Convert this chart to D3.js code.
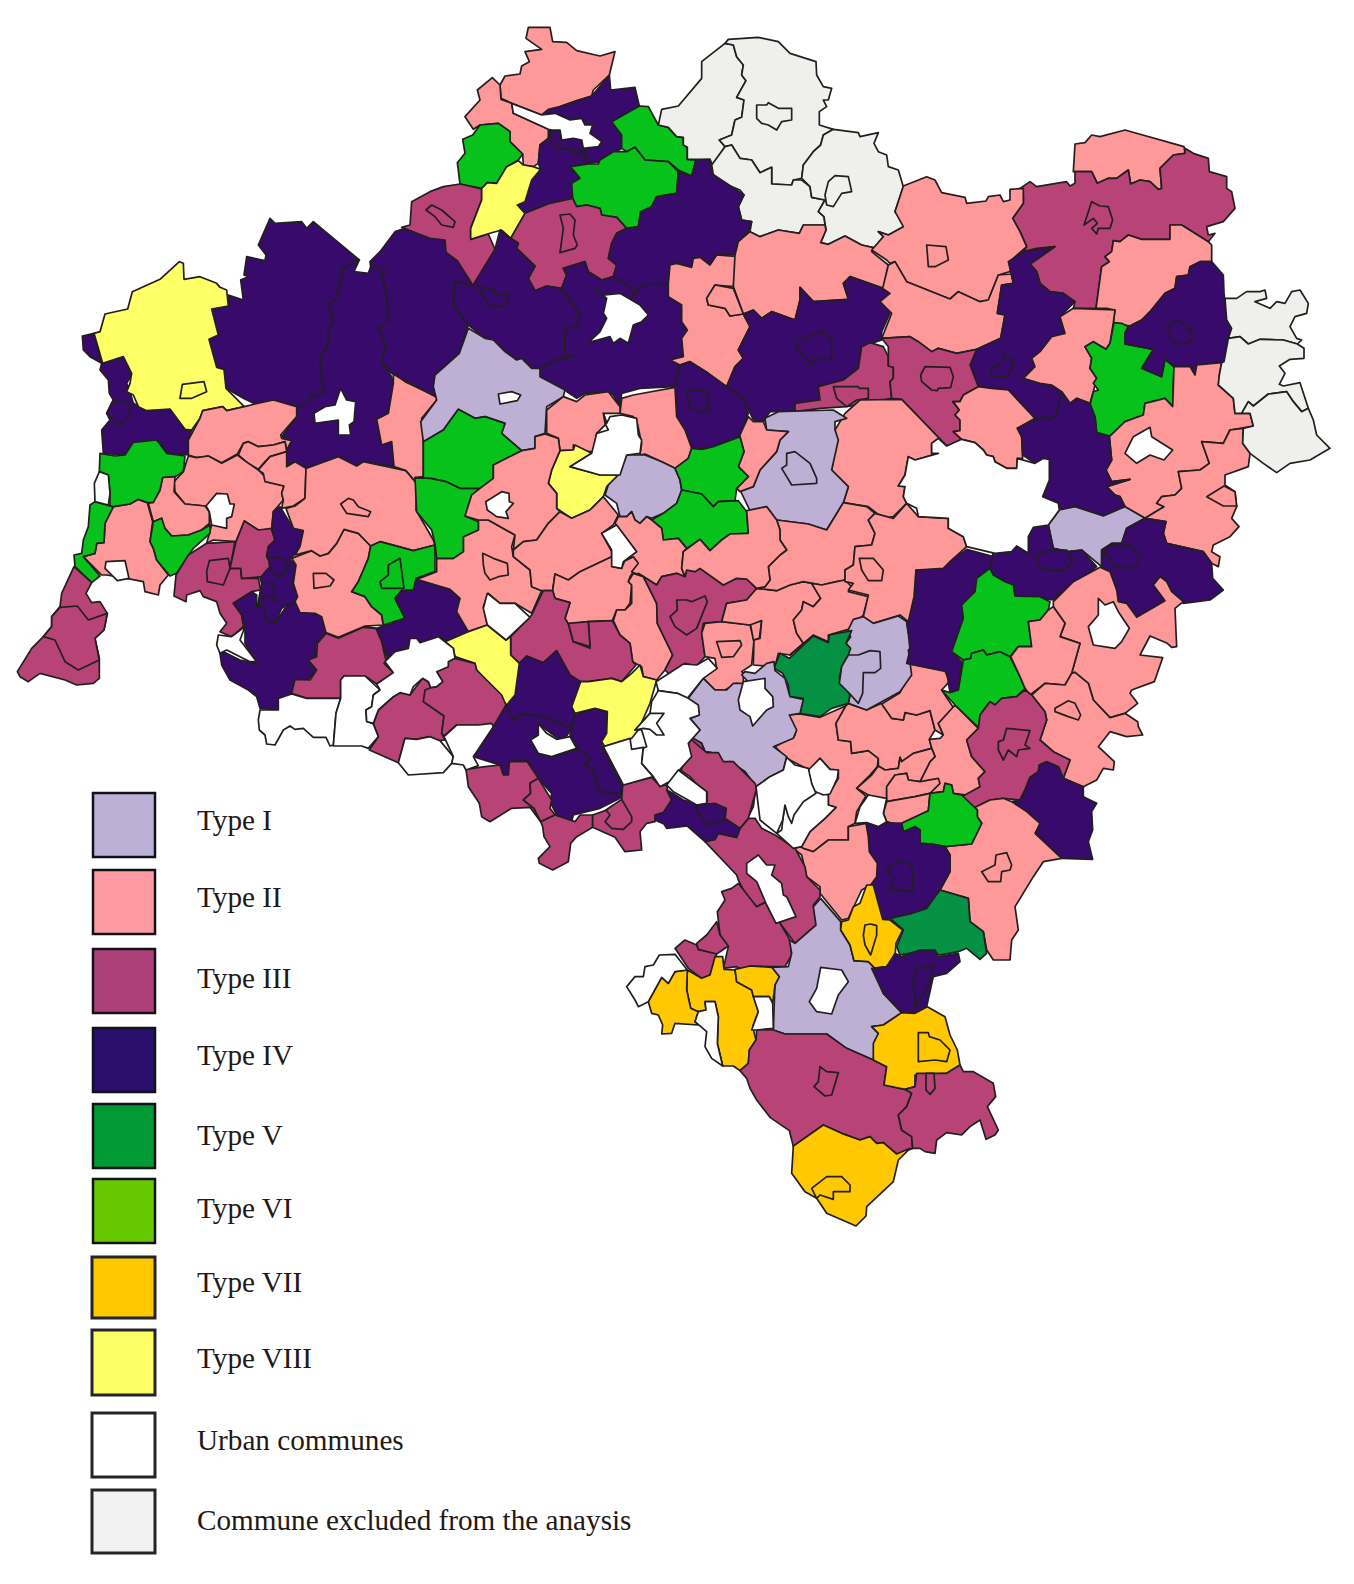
<!DOCTYPE html>
<html><head><meta charset="utf-8">
<script src="https://cdn.jsdelivr.net/npm/d3@7/dist/d3.min.js"></script>
<style>html,body{margin:0;padding:0;background:#fff}svg{display:block}</style></head>
<body><svg id="c" width="1354" height="1584"></svg>
<script>
const legendLabels=["Type I","Type II","Type III","Type IV","Type V","Type VI","Type VII","Type VIII","Urban communes","Commune excluded from the anaysis"];
const legendKeys=["I","II","III","IV","V","VI","VII","VIII","U","X"];
const legendColors=["#BDB0D6","#FF9AA2","#AD4079","#2A0E6E","#009933","#66C800","#FFC800","#FFFF66","#FFFFFF","#F2F2F2"];
const mapColors={I:"#BDB0D4",II:"#FF9999",III:"#B84477",IV:"#370A6B",V:"#049143",VI:"#06C21A",VII:"#FFC800",VIII:"#FFFF66",U:"#FFFFFF",X:"#EFF0EC"};
// commune outlines: [type, ring, isInnerTown?] in crop units (3 per page pixel); each list has its own origin
const originA=[0,200],originB=[400,10],originC=[860,120],originD=[400,380],originE=[760,540],originF=[600,860],originG=[440,720],originH=[240,620],originK=[590,650];
const communesA=[
["IV",[247,408,282,400,305,490,270,470,250,450]],
["IV",[305,490,370,470,397,520,380,550,390,575,400,610,440,632,510,627,555,688,575,690,565,720,570,765,500,760,470,720,400,727,375,765,310,760,305,690,330,660,320,640,340,600,328,580,325,540,300,510]],
["IV",[810,55,825,70,905,65,920,85,940,65,1078,180,1030,205,1010,295,988,310,1000,360,985,390,985,430,960,475,965,530,972,580,930,590,925,610,890,620,820,600,765,612,730,595,678,565,672,508,650,502,627,418,655,405,635,327,685,318,685,285,730,300,722,240,745,230,732,225,740,170,795,182,798,165,775,135]],
["IV",[1030,205,1078,180,1062,215,1105,220,1112,200,1155,210,1145,225,1160,280,1165,365,1135,385,1158,435,1145,485,1175,530,1180,550,1165,640,1130,658,1145,730,1175,720,1182,800,1090,785,1070,798,1015,770,920,805,885,785,860,795,858,755,875,720,845,710,890,650,890,620,925,610,930,590,972,580,965,530,960,475,985,430,985,390,1000,360,988,310,1010,295]],
["VIII",[282,400,300,395,315,342,383,327,397,275,480,238,538,185,550,190,552,238,600,230,650,250,660,262,680,270,685,318,635,327,655,405,627,418,650,502,672,508,678,565,733,620,680,632,668,620,608,632,600,655,575,690,555,688,510,627,440,632,415,620,400,585,380,575,390,550,395,520,370,470,308,490]],
["II",[608,632,668,620,680,632,733,620,765,612,820,600,890,620,890,650,842,705,845,715,875,722,860,750,855,725,820,735,775,740,745,725,730,730,712,762,665,788,625,768,590,773,565,765,565,720,600,655]],
["II",[745,725,775,740,820,735,855,725,860,755,810,770,795,785,775,808,738,785,715,765,730,730]],
["II",[565,768,590,773,625,768,665,790,712,765,738,785,775,810,795,830,800,845,852,858,845,880,850,900,820,935,815,990,775,990,733,963,708,1025,640,1020,620,1030,635,975,628,975,625,920,615,918,555,912,525,875,522,845,550,815]],
["II",[510,830,525,830,522,875,555,912,615,918,628,935,628,970,605,990,565,1005,515,1008,490,980,485,955,460,965,445,910,460,905,480,870,488,832]],
["II",[340,920,390,912,415,898,442,908,458,965,450,1025,460,1045,470,1080,505,1125,480,1155,475,1185,435,1175,430,1145,380,1135,320,1125,305,1125,250,1070,285,1060,290,1030,312,1028,315,970]],
["VI",[460,965,485,955,495,985,515,1008,565,1005,605,990,630,975,630,1000,580,1045,530,1120,510,1128,470,1080,460,1045,450,1025]],
["VI",[270,915,285,905,330,918,340,920,315,970,312,1028,290,1030,285,1060,250,1070,300,1128,275,1148,225,1100,222,1065,245,1060,250,1020,265,980]],
["VI",[300,760,345,768,375,765,400,727,470,720,500,760,555,768,550,815,525,830,488,832,480,870,460,908,442,908,415,898,390,912,340,920,330,918,330,880,325,825,298,815]],
["III",[222,1100,275,1148,258,1180,275,1208,300,1205,322,1240,312,1290,285,1315,298,1375,298,1435,280,1450,230,1455,195,1440,120,1420,85,1445,60,1430,52,1415,95,1345,130,1310,155,1280,155,1250,180,1220,185,1180]],
["III",[180,1222,232,1218,265,1260,322,1240,312,1290,285,1315,298,1380,235,1410,195,1385,165,1320,130,1310,155,1280,155,1250]],
["III",[620,1030,705,1025,690,1105,722,1105,725,1135,775,1135,782,1170,755,1175,700,1210,725,1245,730,1280,695,1310,660,1295,680,1270,660,1240,650,1205,610,1190,600,1172,560,1185,558,1205,522,1188,528,1125,565,1065]],
["III",[733,963,775,990,815,985,825,1020,805,1040,800,1070,815,1095,790,1130,725,1135,722,1105,690,1105,708,1025]],
["IV",[755,1175,770,1185,770,1220,795,1222,800,1262,825,1270,855,1225,885,1205,900,1238,945,1240,965,1250,978,1300,948,1330,945,1375,925,1380,948,1415,920,1440,885,1440,870,1490,835,1495,835,1530,780,1525,770,1490,745,1470,690,1440,665,1395,660,1360,670,1355,720,1380,770,1390,735,1330,735,1280,725,1245,700,1210]],
["IV",[815,990,820,935,840,920,880,985,910,992,900,1040,870,1080,888,1095,878,1150,893,1190,885,1205,845,1225,825,1270,800,1262,790,1220,770,1220,790,1180,785,1150,780,1135,800,1110,815,1095,800,1070,805,1040,825,1020]],
["III",[978,1298,1015,1312,1095,1278,1128,1285,1145,1330,1165,1380,1178,1420,1140,1450,1095,1425,1025,1430,1020,1495,920,1492,878,1480,885,1440,920,1440,948,1415,925,1380,945,1375,948,1330]],
["II",[875,1075,935,1052,960,1068,985,1060,1010,1030,1032,988,1075,1000,1112,1038,1105,1075,1090,1110,1075,1145,1055,1175,1095,1190,1115,1220,1145,1245,1150,1275,1095,1278,1015,1312,978,1298,965,1250,945,1240,900,1238,885,1205,893,1190,880,1150,888,1095]],
["II",[775,810,810,770,860,755,860,800,885,785,918,805,915,895,880,918,845,925,850,900,845,880,852,858,795,845,790,820]],
["II",[918,805,1015,770,1070,798,1090,785,1218,812,1250,850,1248,930,1300,1020,1305,1035,1240,1052,1140,1025,1112,1038,1075,1000,1032,988,1010,1030,985,1060,960,1068,935,1052,885,1065,900,1040,910,992,880,985,858,925,885,918,915,895]],
["VI",[1112,1038,1140,1025,1240,1052,1305,1035,1305,1115,1248,1135,1240,1170,1205,1172,1185,1195,1215,1255,1150,1275,1145,1245,1115,1220,1095,1190,1055,1175,1075,1145,1090,1110,1105,1075]],
["II",[1180,520,1215,545,1310,590,1310,600,1265,655,1270,720,1270,830,1250,850,1218,812,1182,800,1175,725,1145,735,1130,658,1165,640,1180,550]],
["U",[650,880,682,882,690,912,703,912,695,950,680,955,680,985,635,975,628,935,618,918]],
["U",[318,1085,375,1082,387,1135,352,1142,315,1105]],
["U",[298,815,325,825,330,880,325,915,285,905,283,850]],
["U",[655,1305,695,1310,735,1280,720,1320,770,1385,750,1385,680,1350,660,1360,650,1335]],
["U",[1022,565,1040,600,1067,605,1062,665,1048,675,1052,705,1015,705,1015,660,945,670,942,640,975,620,1005,615]],
["VIII",[547,553,612,545,620,575,575,595,540,595],1],
["IV",[340,600,388,612,388,648,360,678,320,640],1],
["III",[628,1082,685,1075,690,1105,670,1155,622,1145,620,1115],1],
["IV",[805,1070,845,1075,868,1095,840,1135,810,1110],1],
["IV",[785,1150,820,1152,822,1195,838,1205,795,1185,772,1220],1],
["II",[940,1120,978,1120,1002,1140,990,1158,942,1165],1],
["II",[1022,912,1045,895,1060,900,1075,920,1112,935,1105,950,1040,940],1],
["VI",[1165,1095,1200,1075,1212,1165,1145,1165,1140,1145,1165,1125],1]
];
const communesB=[
["IV",[-90,755,-60,725,-15,665,15,655,135,690,138,727,172,752,218,827,165,815,160,885,205,945,178,1030,105,1095,100,1125,115,1165,-25,1090,-55,1055,-42,1005,-65,955,-35,935,-40,850,-55,795,-45,780,-88,770]],
["II",[385,52,450,52,458,95,500,97,530,122,600,138,645,125,628,195,580,240,575,258,530,272,480,290,425,315,335,280,303,265,300,225,315,198,360,192,365,168,388,155,375,125,425,118,378,85]],
["II",[277,203,300,225,303,268,335,280,340,310,445,358,445,385,420,405,415,460,400,470,370,465,368,432,330,395,330,365,295,340,240,345,220,358,195,320,240,270,232,240]],
["VI",[240,345,295,340,330,365,330,395,368,432,355,450,320,470,290,520,262,518,245,535,180,522,172,458,195,430,188,388,218,375]],
["III",[5,652,30,645,35,575,90,545,130,530,180,522,245,537,245,570,212,655,212,688,265,672,285,718,220,828,172,752,138,727,135,690,90,685]],
["IV",[445,298,480,290,575,258,628,195,632,240,705,232,718,288,635,335,665,375,665,415,600,455,510,470,540,505,515,520,518,565,450,580,375,610,352,585,375,575,395,510,422,478,415,460,420,405,445,385,450,362,480,360,485,390,520,385,545,390,550,415,595,410,605,395,570,370,578,345,555,345,545,325,510,330,465,310,425,315]],
["IV",[450,362,480,360,485,390,520,385,545,390,565,462,540,420,525,435,520,415,480,417,455,395]],
["VIII",[355,452,370,465,400,470,422,478,395,510,375,575,352,585,375,610,332,685,305,660,262,672,212,688,212,655,245,570,245,535,262,518,290,520,320,470]],
["VI",[635,335,718,288,745,290,775,345,805,352,830,380,850,382,850,405,862,412,862,448,888,450,875,498,835,480,805,455,735,450,705,412,680,425,665,415,665,375]],
["VI",[512,470,565,462,595,462,600,450,640,425,655,425,680,425,705,412,735,450,805,455,835,485,830,550,770,560,755,590,722,605,715,650,680,655,650,622,605,615,600,595,560,585,530,590,518,565,515,520,540,505]],
["X",[775,345,785,298,835,288,905,205,905,155,975,100,1000,105,1010,140,1030,165,1025,195,1038,212,1010,262,1032,270,1025,322,1005,330,995,375,958,390,975,410,938,465,930,448,862,448,862,412,850,405,850,382,830,380,805,352]],
["X",[975,100,985,88,1075,82,1135,95,1170,130,1248,155,1250,195,1270,230,1295,235,1285,270,1270,270,1280,290,1258,305,1258,345,1300,358,1270,375,1262,405,1240,425,1210,465,1205,505,1180,510,1175,525,1115,522,1115,472,1080,488,1055,450,1020,445,995,405,975,410,958,390,995,375,1005,330,1025,322,1032,270,1010,262,1038,212,1025,195,1030,165,1010,140,1000,105]],
["X",[935,465,975,410,995,405,1020,445,1055,450,1080,488,1115,472,1115,522,1175,525,1180,510,1205,510,1230,530,1235,562,1275,570,1255,605,1272,620,1275,645,1210,645,1198,670,1135,660,1080,680,1050,665,1055,635,1025,630,1015,590,1032,555,1020,540,960,515,940,495]],
["X",[1300,358,1375,368,1380,380,1435,368,1422,400,1435,425,1460,435,1465,470,1495,480,1510,530,1485,605,1505,630,1510,650,1465,675,1435,665,1450,680,1430,715,1385,705,1335,678,1285,703,1262,698,1278,660,1272,620,1255,605,1275,570,1235,562,1230,530,1205,505,1210,465,1240,425,1262,405,1270,375]],
["III",[518,565,530,590,560,585,600,595,605,615,650,622,680,655,650,670,635,700,625,745,650,765,640,800,605,810,565,785,555,755,490,775,500,795,485,835,440,828,405,842,385,805,405,768,350,715,355,700,332,685,375,610,450,580]],
["IV",[680,655,715,650,722,605,755,590,770,560,830,550,835,485,875,498,888,450,930,448,935,490,1032,555,1015,590,1025,630,1055,635,1045,665,1015,695,1005,735,950,735,930,765,900,742,880,745,875,772,830,757,805,820,745,822,720,830,700,860,695,835,660,810,640,800,650,765,625,745,635,700,650,670]],
["IV",[285,718,300,660,332,685,355,700,350,715,405,768,385,805,405,842,440,828,485,835,510,870,540,910,535,945,495,960,495,1040,520,1040,465,1050,420,1078,395,1075,365,1045,350,1050,315,1025,280,990,255,985,205,945,160,885,165,815,218,827]],
["IV",[490,775,555,755,565,785,605,810,640,800,660,810,695,835,700,860,720,830,745,822,805,820,805,860,845,885,845,935,862,960,845,985,850,1040,810,1050,840,1065,845,1100,820,1130,720,1135,665,1150,660,1190,640,1155,625,1145,555,1150,530,1165,500,1145,495,1140,420,1100,420,1075,465,1050,520,1040,495,1040,495,960,535,945,540,910,510,870,485,835,500,795]],
["II",[810,765,830,760,875,772,880,745,900,742,930,765,950,735,1015,740,1000,830,945,825,920,865,925,885,975,895,990,918,1030,912,1050,950,1015,1020,1030,1045,1005,1070,980,1130,925,1090,870,1055,840,1065,810,1050,850,1040,845,985,862,960,845,935,845,885,805,860,805,820]],
["II",[945,825,1000,835,1030,912,990,918,975,895,925,885,920,865],1],
["II",[1005,735,1015,695,1050,665,1080,680,1135,660,1198,670,1210,645,1275,645,1278,660,1262,698,1285,703,1335,678,1385,705,1430,715,1415,725,1465,765,1450,835,1350,800,1330,820,1345,868,1240,875,1200,832,1200,870,1185,930,1115,905,1085,925,1060,900,1030,912,1000,830]],
["IV",[1030,912,1060,900,1085,925,1115,905,1185,930,1200,870,1200,832,1240,875,1345,868,1330,820,1350,800,1450,835,1472,850,1440,875,1472,905,1445,965,1445,990,1385,1010,1375,1075,1330,1110,1255,1130,1260,1170,1185,1180,1185,1205,1110,1205,1090,1235,1060,1230,1030,1165,980,1130,1005,1070,1030,1045,1015,1020,1050,950]],
["III",[1255,1130,1330,1110,1375,1075,1385,1010,1410,998,1450,1010,1465,1040,1465,1068,1480,1070,1480,1105,1470,1115,1475,1165,1340,1190,1260,1195,1185,1205,1185,1180,1260,1170]],
["U",[335,280,425,315,465,310,510,330,545,325,555,345,578,345,570,370,605,395,595,410,550,415,545,390,520,385,485,390,480,360,455,360,445,358,340,310]],
["U",[585,835,615,855,660,850,720,885,745,915,725,935,700,945,685,1000,660,985,640,1000,630,980,565,998,600,965,620,925,610,910,620,865]],
["III",[78,600,95,585,125,600,165,635,160,652,125,645,105,620],1],
["III",[480,615,510,612,525,630,520,675,532,705,525,715,480,728,490,655],1],
["X",[1070,285,1100,285,1105,278,1135,295,1175,295,1175,330,1145,335,1130,360,1105,345,1085,340,1070,325],1],
["X",[1305,497,1345,500,1355,545,1325,550,1300,590,1280,585,1275,555,1285,515],1],
["IV",[232,830,280,838,285,852,325,855,315,888,270,890],1],
["IV",[1190,995,1265,965,1295,985,1295,1050,1245,1045,1235,1065,1190,1015],1],
["III",[1300,1130,1375,1130,1378,1135,1405,1135,1405,1165,1370,1170,1340,1190,1310,1165],1]
];
const communesC=[
["II",[640,155,645,72,675,68,695,45,720,50,795,30,972,80,975,100,940,105,900,145,905,205,895,208,870,185,840,180,812,192,805,150,770,175,745,175,712,190,695,155]],
["III",[480,205,510,185,530,200,620,185,630,198,645,190,645,155,695,155,712,190,745,175,770,175,805,150,812,192,840,180,870,185,895,208,905,205,900,145,940,105,975,100,975,85,1000,100,1045,115,1048,155,1100,170,1100,205,1115,215,1125,265,1090,305,1040,320,1045,345,1065,340,1045,365,965,315,930,315,930,358,845,358,805,345,780,365,760,362,755,395,735,410,748,425,725,440,708,565,640,565,645,545,610,520,570,515,540,490,530,455,510,432,585,380,530,385,490,395,500,380,480,335,458,295,490,250,490,225]],
["II",[130,198,200,170,225,180,245,218,315,232,320,250,378,243,385,230,420,225,430,245,450,240,450,208,490,205,490,250,458,295,480,335,500,380,460,415,450,455,415,465,385,540,360,545,295,515,270,537,140,485,105,425,90,430,80,420,35,390,70,350,55,335,85,345,130,320,105,275]],
["II",[85,435,105,425,140,485,270,537,295,515,360,545,385,540,415,465,455,462,460,490,425,495,412,580,435,585,422,655,350,688,290,700,235,685,215,695,175,665,150,650,65,655,95,580,60,545,90,520,68,505]],
["II",[708,565,725,440,748,425,735,410,755,395,760,362,780,365,805,345,845,358,930,358,930,315,965,315,1045,365,1055,375,1055,425,1020,425,990,440,985,465,950,470,945,505,915,520,870,575,845,600,810,618,760,608,765,570,740,565]],
["IV",[445,425,490,395,585,380,510,432,530,455,540,490,570,515,610,520,645,545,600,590,600,600,615,640,575,650,540,695,515,715,525,740,490,775,540,790,575,795,605,815,590,885,570,900,550,890,525,900,445,810,395,805,355,800,330,735,350,688,422,655,435,585,412,580,425,495,460,490]],
["II",[600,590,640,565,765,570,760,608,750,670,738,688,700,665,675,680,695,715,690,745,710,775,700,815,690,850,650,835,630,850,605,815,575,795,540,790,490,775,525,740,515,715,540,695,575,650,615,640]],
["VI",[762,608,785,610,805,620,795,640,795,672,880,688,845,745,905,770,915,718,942,740,938,860,915,835,855,850,850,885,795,905,750,948,710,938,705,890,688,862,700,815,715,810,700,790,710,775,690,745,695,715,675,680,700,665,738,688,750,670]],
["IV",[805,620,845,600,870,575,915,520,945,505,950,470,985,465,990,440,1020,425,1055,425,1090,465,1092,520,1100,600,1115,625,1105,655,1092,725,1010,735,1005,765,990,740,942,740,915,718,905,770,845,745,880,688,795,672,795,640]],
["III",[85,680,65,655,150,650,175,665,215,695,235,685,290,700,350,688,330,735,355,800,310,825,300,845,278,845,298,870,285,885,300,900,300,932,280,935,305,958,260,978,125,838,95,835,90,785,100,775,100,742,85,738]],
["II",[942,740,990,740,1005,765,1010,735,1085,728,1078,765,1075,795,1120,835,1125,880,1170,880,1180,918,1110,930,1090,970,1025,965,1048,1030,1020,1050,955,1055,965,1105,945,1125,905,1130,890,1150,912,1160,855,1195,795,1160,780,1130,765,1125,740,1100,810,1078,755,1085,738,1050,755,1020,748,950,795,905,850,885,855,850,915,835,938,860]],
["II",[1025,965,1090,970,1110,930,1150,925,1148,970,1170,1000,1165,1040,1095,1065,1095,1095,1125,1115,1130,1160,1115,1195,1137,1220,1110,1250,1060,1275,1055,1295,1080,1310,1075,1340,1055,1330,1030,1295,920,1270,910,1240,918,1205,855,1195,912,1160,890,1150,905,1130,945,1125,965,1105,955,1055,1020,1050,1048,1030]],
["X",[1095,535,1130,535,1160,515,1200,515,1215,510,1220,535,1185,545,1230,565,1250,545,1275,550,1295,515,1320,510,1345,550,1340,580,1305,590,1290,620,1310,655,1325,660,1312,672,1270,660,1200,658,1165,672,1140,650,1105,655,1115,625,1100,600]],
["X",[1105,655,1140,650,1165,672,1200,658,1270,660,1312,672,1332,685,1332,715,1290,718,1258,738,1275,760,1258,793,1270,798,1320,788,1345,865,1325,875,1300,845,1280,815,1225,822,1180,858,1165,845,1145,880,1125,880,1120,835,1075,795,1078,765,1085,728,1092,725]],
["X",[1145,880,1165,845,1180,858,1225,822,1280,815,1300,845,1325,875,1345,865,1360,900,1370,945,1410,985,1350,1020,1290,1030,1250,1058,1210,1030,1170,1000,1148,970,1150,925,1180,918,1170,880]],
["II",[280,845,300,845,310,825,355,800,395,805,445,810,525,895,472,925,485,950,488,1015,472,1015,470,1045,440,1045,405,1025,400,1010,380,1005,370,990,345,968,305,958,280,935,300,932,300,900,285,885,298,870]],
["II",[0,840,125,838,260,978,235,955,215,970,215,1000,235,1000,165,1020,145,1010,135,1065,115,1098,135,1100,130,1130,140,1150,100,1190,70,1195,25,1160,-50,1148,-35,1100,-85,1050,-70,960,-75,930,-45,880]],
["IV",[472,925,525,900,550,890,570,900,590,885,605,815,630,850,650,835,690,850,705,890,710,938,748,950,755,1020,738,1050,755,1085,810,1078,740,1100,765,1125,780,1130,795,1160,730,1188,645,1160,600,1170,595,1150,548,1130,568,1080,568,1018,525,1030,488,1005,485,950]],
["I",[565,1215,598,1170,645,1160,730,1188,795,1160,855,1195,800,1225,785,1270,755,1270,725,1290,725,1340,665,1290,625,1295,580,1285]],
["U",[215,970,235,955,260,978,305,958,345,968,370,990,380,1005,400,1010,405,1025,440,1045,470,1045,472,1015,525,1030,550,1015,568,1018,568,1080,548,1130,595,1150,598,1170,565,1215,520,1222,505,1250,505,1300,470,1278,455,1295,405,1300,320,1280,310,1250,265,1225,265,1195,175,1190,170,1165,140,1150,130,1130,135,1100,115,1098,135,1065,145,1010,165,1020,235,1000,215,1000]],
["U",[870,922,875,950,938,990,912,1020,870,1005,830,1030,795,1000,820,950]],
["II",[1040,1130,1092,1098,1125,1115,1130,1158,1090,1158],1],
["II",[200,375,258,380,265,420,225,440,205,440],1],
["III",[695,245,720,258,745,260,758,300,750,325,715,325,710,342,695,325,712,310,700,295,672,315],1],
["III",[195,740,270,742,280,770,272,803,235,805,232,812,215,810,185,785,182,765],1],
["IV",[395,745,430,725,435,705,455,715,458,745,440,770,392,768],1],
["IV",[920,625,935,605,960,605,998,640,995,660,970,672,945,670],1]
];
const communesD=[
["IV",[-70,745,15,715,-15,655,5,632,40,630,50,598,150,628,180,655,170,695,205,755,135,785,120,770,75,790,35,778,30,800,-5,810,-35,830,-55,790]],
["II",[110,535,160,535,190,515,190,470,235,450,235,420,265,420,345,465,335,500,340,530,390,570,395,620,425,632,395,700,345,670,300,670,265,640,250,680,262,735,205,755,170,695,180,655,150,628,50,598,110,575]],
["VI",[45,293,95,295,140,305,180,325,240,325,215,345,195,408,235,425,235,450,190,470,190,515,160,535,110,535,105,492,95,450,50,395]],
["I",[100,20,105,-15,178,-80,205,-155,255,-125,280,-120,315,-85,350,-60,365,-65,395,-35,420,-35,420,-10,495,30,490,50,440,80,435,160,405,170,405,205,365,212,305,160,315,130,255,110,225,115,175,88,130,150,70,185,62,125,110,60]],
["VI",[70,185,130,150,175,88,225,115,255,110,315,130,305,160,365,212,280,255,280,295,240,325,180,325,140,305,95,295,45,293,70,290]],
["IV",[825,20,840,-45,870,-55,925,-20,980,20,1030,55,1045,100,1020,170,990,182,940,200,905,208,875,205,855,150,830,110]],
["I",[1095,115,1135,95,1300,90,1340,115,1305,125,1305,150,1315,180,1295,270,1345,320,1330,368,1280,450,1225,432,1130,420,1100,380,1050,392,1020,330,1060,320,1080,270,1130,215,1140,180,1165,155,1100,150]],
["II",[1020,165,1045,110,1060,125,1090,125,1100,150,1165,155,1140,180,1130,215,1080,270,1060,320,1020,335,1010,325,1045,290,1015,260,1032,215,1020,170]],
["II",[665,55,700,45,825,22,830,110,855,150,875,205,865,235,825,265,785,245,735,222,720,225,725,190,712,130,700,110,660,100]],
["II",[440,90,490,50,530,65,555,45,625,35,660,80,660,100,610,100,620,130,590,160,580,215,545,215,520,195,520,210,480,212,475,175,440,160]],
["VIII",[480,212,520,210,525,195,575,220,510,260,600,285,655,285,620,320,610,350,570,390,515,415,485,395,470,385,470,340,445,310,455,270,470,235]],
["I",[680,225,735,225,785,245,825,265,840,300,845,330,830,370,790,400,755,415,740,410,720,430,705,420,695,395,680,410,660,410,650,370,615,345,625,315,655,285]],
["VI",[825,265,865,235,875,205,905,208,940,200,1020,170,1032,215,1015,260,1045,290,1010,325,1005,362,955,365,940,380,905,342,845,330,840,300]],
["VI",[845,330,905,342,940,380,955,365,1015,362,1040,395,1045,460,990,462,965,480,930,512,900,478,860,505,835,475,790,480,785,445,755,420,790,400,830,370]],
["II",[240,325,280,295,280,255,365,212,405,205,405,170,435,162,475,175,480,212,470,235,455,270,445,310,470,340,470,385,480,395,445,430,410,480,370,485,340,510,345,465,265,420,235,420,195,408,215,345]],
["II",[340,510,370,485,410,480,445,430,480,395,515,415,570,390,610,350,655,405,640,435,605,460,635,515,635,530,540,575,505,600,465,582,458,632,425,632,395,620,390,570,340,530]],
["II",[458,632,465,582,505,600,540,575,635,530,640,560,665,565,675,540,700,530,718,550,690,590,685,605,695,615,690,670,675,690,650,690,637,722,565,725,505,732,495,715,510,668,465,655]],
["II",[645,430,655,410,680,410,695,395,705,420,720,430,740,410,755,420,785,445,790,480,835,475,860,505,850,515,845,565,855,590,830,580,785,590,770,615,730,590,695,575,715,550,700,530,670,545,710,515]],
["II",[700,580,730,590,770,670,772,730,818,825,795,870,770,900,730,890,725,860,698,845,690,790,660,765,640,722,650,690,675,690,695,670,695,615,685,605]],
["III",[715,580,770,615,785,590,830,580,855,590,860,570,885,575,900,565,970,615,1010,595,1040,597,1070,627,1040,660,980,670,965,725,910,730,905,760,915,830,890,858,855,850,815,890,795,870,818,825,772,730,770,670,730,590]],
["II",[915,730,965,725,1050,735,1062,780,1055,855,1025,875,1030,880,1030,915,1010,910,975,930,945,930,905,890,950,865,945,835,915,830,905,760]],
["II",[1050,725,1085,722,1078,775,1060,780]],
["II",[1070,625,1130,632,1170,615,1210,605,1235,610,1262,655,1240,680,1210,665,1205,690,1180,720,1190,760,1210,790,1170,825,1135,820,1125,860,1060,855,1062,780,1080,775,1085,722,1050,735,965,725,980,670,1040,660]],
["II",[1070,625,1095,620,1110,600,1105,560,1140,525,1160,510,1140,480,1140,450,1130,420,1225,432,1280,450,1330,368,1400,380,1425,400,1405,420,1425,460,1415,495,1365,500,1360,555,1335,570,1335,600,1310,605,1265,615,1210,605,1170,615,1130,632]],
["II",[850,515,900,478,930,512,965,480,990,462,1045,460,1040,392,1100,380,1130,420,1140,450,1140,480,1160,510,1140,525,1105,560,1110,600,1095,620,1070,625,1040,597,1010,595,970,615,900,565,885,575,860,570,855,590,845,565]],
["II",[1235,610,1265,615,1310,605,1335,600,1360,625,1345,635,1405,650,1390,705,1355,745,1285,765,1285,785,1240,765,1170,825,1210,790,1190,760,1180,720,1205,690,1210,665,1240,680,1262,655]],
["III",[395,705,430,632,458,632,465,655,510,668,495,715,505,732,520,785,570,805,565,725,637,722,660,765,690,790,698,845,708,855,665,905,635,895,565,905,540,905,510,885,485,840,470,812,430,848,380,828,358,850,332,825,332,770]],
["III",[505,730,565,725,570,800,520,785],1],
["IV",[358,850,380,828,430,848,470,812,485,840,510,885,542,905,515,980,525,1005,515,1045,425,1008,360,1003,342,1022,318,975,345,945]],
["IV",[318,975,342,1022,360,1003,425,1008,515,1045,500,1068,480,1080,420,1035,415,1065,392,1080,415,1120,455,1130,530,1108,515,1070,570,1135,555,1155,580,1170,600,1235,665,1240,660,1255,600,1285,520,1305,515,1325,470,1305,450,1265,455,1240,415,1195,380,1140,335,1145,325,1185,310,1185,300,1155,220,1130]],
["IV",[525,1005,585,985,622,995,620,1070,605,1095,665,1215,665,1240,600,1235,580,1170,555,1155,570,1135,530,1100,510,1065,515,1045]],
["VIII",[135,785,205,755,262,735,318,780,332,770,332,825,358,850,345,945,320,975,228,868,225,850,165,830,160,805]],
["VIII",[542,905,565,905,635,895,665,905,695,880,720,855,730,890,770,900,750,970,715,1050,695,1075,615,1100,605,1085,620,1060,622,995,585,985,525,1000,515,980]],
["U",[262,640,300,670,345,670,390,712,318,780,262,735,250,685]],
["U",[295,42,335,35,362,45,352,62,300,72]],
["U",[257,365,305,335,327,340,328,365,340,370,318,395,325,415,290,410,262,390]],
["U",[610,100,620,130,630,110,665,105,710,115,715,165,725,180,720,220,680,225,660,285,600,285,510,260,575,220,590,160,625,150,615,130]],
["U",[650,435,710,515,670,545,665,565,635,560,635,510,605,460]],
["U",[415,1030,440,1060,470,1078,510,1070,530,1105,455,1130,415,1120,392,1080,415,1065]],
["II",[248,520,280,535,322,550,325,585,295,590,270,600,255,580,250,555],1],
["IV",[860,35,885,28,922,35,928,90,900,95,870,85],1],
["I",[1160,220,1185,215,1230,250,1250,295,1250,310,1175,315,1160,290,1145,265,1160,255],1],
["III",[830,660,860,660,875,665,915,648,922,665,890,745,860,765,825,740,810,710,832,690],1],
["II",[950,785,1020,782,1025,795,1000,830,965,832],1]
];
const communesE=[
["II",[345,-80,400,-65,440,-110,475,-70,565,-65,565,-35,610,-10,620,20,570,65,560,90,468,90,462,170,445,245,420,225,340,250,310,230,325,165,265,150,280,130,255,125,255,90,280,75,285,20,335,15,345,-20,325,-60]],
["II",[85,525,120,522,180,532,258,497,228,550,235,600,272,605,275,640,325,632,355,655,352,680,330,705,290,745,318,768,290,815,285,850,265,860,265,900,205,900,160,935,130,937,125,920,150,875,195,835,228,802,205,795,205,765,235,715,235,690,210,688,180,655,148,690,80,655,45,620,105,585,108,570]],
["II",[228,550,258,497,265,490,320,510,365,490,395,535,430,540,435,518,470,525,510,512,525,570,508,598,515,625,460,640,425,665,420,652,415,685,375,690,355,678,355,655,325,632,275,640,272,605,235,600]],
["II",[365,492,420,458,445,405,430,368,555,392,568,425,545,450,585,510,555,540,535,550,550,585,525,570,510,512,470,525,435,518,430,540,395,535]],
["II",[585,495,655,565,620,600,635,650,675,695,655,715,660,740,620,765,580,760,575,735,555,730,550,755,510,760,480,725,510,665,525,650,515,625,508,598,540,595,550,585,535,550]],
["II",[355,678,375,690,415,685,420,652,425,665,460,640,515,625,525,650,510,665,480,725,445,720,440,700,405,705,380,740,380,785,325,765,290,745,335,705]],
["II",[380,740,405,705,440,700,445,720,480,725,535,715,540,730,510,760,465,770,380,785]],
["II",[380,785,465,770,510,760,505,812,425,850,405,852,380,845,370,820]],
["I",[280,238,310,230,340,250,415,228,440,245,445,280,460,315,445,330,455,405,420,455,320,510,265,490,270,465,240,430,245,380,265,345,258,310,272,290,262,275]],
["V",[42,385,60,340,88,355,160,288,205,308,208,285,275,272,258,310,272,325,265,345,245,380,238,415,270,465,265,490,215,505,180,530,120,520,130,475,88,470,85,435,68,400]],
["IV",[445,250,465,170,468,90,550,85,570,65,620,28,700,50,690,85,650,115,645,155,605,195,610,235,575,335,605,365,595,450,570,458,560,395,440,370,450,330,445,280,440,245]],
["IV",[700,35,715,40,755,35,770,18,805,40,805,-10,820,-38,865,-45,880,25,925,35,965,30,1010,80,980,105,940,125,880,180,840,175,765,168,760,135,735,125,700,105,690,85]],
["IV",[1025,82,1025,30,1055,10,1085,10,1100,-35,1155,-65,1218,-55,1210,-20,1220,10,1330,35,1355,70,1358,115,1390,150,1350,180,1270,190,1235,155,1220,125,1200,110,1180,135,1215,182,1130,232,1100,190,1075,185,1070,150,1050,95]],
["VI",[690,85,700,105,735,125,760,135,765,168,840,170,870,185,865,210,840,240,805,245,815,320,775,320,750,350,720,335,700,340,680,345,670,330,635,340,632,355,610,360,575,335,610,235,605,195,645,155,650,115]],
["VI",[610,360,632,355,635,340,670,330,680,345,700,340,720,335,750,350,780,410,795,445,770,470,725,475,705,495,690,485,660,525,658,565,585,495,545,450,570,458,595,450]],
["II",[880,185,940,125,1020,82,1050,95,1070,150,1075,185,1100,190,1130,232,1215,182,1180,135,1200,110,1220,125,1235,155,1270,185,1245,205,1250,320,1235,322,1222,310,1170,288,1140,345,1208,353,1183,425,1115,450,1110,460,1133,490,1095,520,1050,533,1000,480,985,430,945,397,935,400,960,310,900,290,915,250,880,200]],
["II",[752,350,775,320,815,320,805,245,840,240,865,210,880,200,915,250,900,290,960,310,935,400,915,435,855,430,810,465,795,445,780,410]],
["II",[815,465,855,430,915,435,935,400,945,397,985,430,1000,480,1050,533,1095,520,1133,545,1135,560,1148,585,1100,590,1050,575,1015,620,1063,665,1060,690,1030,685,1010,720,970,740,910,715,930,660,880,635,840,600,860,540,855,515]],
["III",[655,565,660,525,690,485,705,495,725,475,770,470,795,450,815,465,855,515,860,540,840,600,880,635,930,660,910,715,895,680,860,665,838,675,835,695,810,712,795,750,780,780,730,775,690,780,640,805,605,770,660,740,655,715,675,695,635,650,620,600]],
["IV",[755,785,780,780,795,750,810,712,835,695,838,675,860,665,895,680,910,715,970,740,970,770,1010,790,995,815,998,870,985,905,998,958,905,955,825,880,840,850,800,815]],
["II",[555,920,635,912,665,850,652,830,652,810,605,770,640,805,690,780,730,775,755,785,800,815,840,850,825,880,905,955,850,965,820,1010,765,1100,775,1170,755,1200,750,1260,700,1260,680,1230,670,1175,630,1145,625,1075,540,1050,570,995,570,945]],
["VI",[425,850,505,812,510,760,550,755,555,730,575,735,580,760,605,765,652,810,652,830,665,850,635,912,555,920,515,912,480,910,480,870,465,860,430,875]],
["IV",[318,850,370,848,425,850,430,875,465,860,480,870,480,910,515,912,555,920,570,945,570,995,540,1050,500,1105,450,1122,370,1140,332,1035,350,1010,352,970,328,935,325,890]],
["V",[390,1135,450,1122,500,1105,540,1050,625,1075,630,1145,670,1175,680,1240,660,1258,620,1225,595,1235,540,1245,500,1230,420,1245,410,1220,430,1170]],
["II",[120,920,130,925,160,935,205,900,265,900,265,860,318,850,325,890,328,935,352,970,350,1010,332,1035,305,1050,265,1135,245,1140,180,1060,180,1040,140,1010,125,945,100,925]],
["U",[50,880,65,870,72,810,85,795,100,825,125,775,160,752,205,765,205,795,228,802,195,835,150,875,125,920,100,925]],
["U",[145,690,180,655,210,688,235,690,232,715,210,762,190,765,160,752,150,715]],
["U",[285,850,300,800,325,765,380,775,370,820,380,845,355,860,320,848]],
["U",[1015,175,1035,195,1060,185,1075,215,1108,265,1085,305,1065,325,1000,315,985,260,1015,225]],
["II",[298,55,340,55,370,90,365,122,325,122,305,90],1],
["I",[265,345,295,345,330,332,360,335,362,385,345,398,310,398,308,460,295,490,270,462,238,430,245,380],1],
["IV",[825,55,860,30,920,30,938,60,915,92,850,90],1],
["IV",[1025,35,1060,12,1085,22,1105,10,1140,50,1135,70,1115,85,1060,78,1045,50],1],
["II",[885,505,925,482,945,490,962,525,955,540,925,530,885,515],1],
["III",[740,565,810,572,795,615,810,625,775,630,770,650,745,630,730,660,715,630,715,605,730,600],1],
["II",[665,995,705,975,708,945,740,938,755,975,750,990,725,995,722,1025,685,1025],1],
["IV",[380,985,420,960,455,975,460,1055,390,1050,400,1020],1]
];
const communesF=[
["III",[315,-55,345,-62,355,-80,410,-68,420,-95,445,-125,465,-125,485,-95,525,-75,585,-35,615,20,620,50,660,90,660,110,640,135,650,195,585,250,540,190,500,125,470,140,440,110,415,60,410,45]],
["III",[415,70,470,140,500,125,540,190,570,240,575,285,555,320,515,320,450,318,435,335,410,320,370,325,385,260,360,225,352,155,375,120,365,95,395,85]],
["III",[225,265,255,240,290,255,295,268,350,280,340,318,330,345,305,355,265,325]],
["III",[290,250,320,225,350,185,360,225,385,258,350,282,295,268]],
["I",[662,115,722,185,722,210,750,255,762,302,805,305,825,325,850,400,905,458,850,495,815,500,835,520,820,600,740,565,680,522,555,522,520,510,525,370,538,350,515,322,565,320,575,280,568,240,585,250,648,195,640,140]],
["VII",[800,75,820,75,848,178,870,180,908,210,888,250,885,290,860,320,825,325,805,305,762,302,750,255,722,210,725,185,745,180,760,140,780,130]],
["IV",[815,325,860,320,885,280,905,290,960,270,1005,270,1015,290,1075,280,1080,305,1040,340,1000,350,980,440,945,460,905,458,850,400]],
["VII",[262,330,305,355,330,345,345,290,368,290,372,328,405,330,410,365,455,390,475,455,458,500,468,540,448,570,445,610,420,632,400,618,368,618,352,550,355,470,345,425,315,425,318,450,295,455,272,445,260,390]],
["VII",[405,328,450,318,515,322,538,350,525,375,518,430,508,410,460,410,455,390,410,365]],
["VII",[145,425,185,352,205,370,225,335,262,330,260,390,272,445,295,455,285,485,295,495,225,490,215,520,185,522,188,495,175,465,155,460]],
["III",[420,632,445,610,448,570,468,540,470,508,520,510,555,522,680,522,740,565,820,600,860,620,852,675,915,688,935,700,920,740,895,765,905,810,935,830,938,865,890,882,850,848,830,850,810,830,780,840,725,820,670,795,580,860,568,812,510,772,470,720,450,685,440,655]],
["VII",[820,600,820,550,835,520,815,500,850,495,905,458,945,460,982,440,1035,470,1050,525,1072,570,1080,615,1040,640,945,645,945,680,915,688,852,675,860,620]],
["III",[915,688,945,680,950,640,1040,640,1080,615,1090,635,1120,635,1180,670,1187,710,1162,740,1195,810,1185,825,1158,838,1140,780,1110,800,1085,825,1040,818,1010,840,1005,880,975,875,960,865,938,865,935,830,905,810,895,765,920,740,935,700]],
["VII",[580,858,670,795,725,820,780,840,810,830,830,850,850,848,890,882,930,865,895,900,880,965,800,1040,798,1068,768,1098,680,1060,650,1015,615,995,575,940]],
["U",[440,10,475,-15,500,15,525,15,515,45,545,70,550,105,560,110,588,170,528,190,500,135,470,65,440,40]],
["U",[662,322,725,330,745,365,715,405,695,462,650,455,628,425,650,385]],
["U",[80,380,105,350,130,350,135,320,160,315,178,285,225,283,262,330,225,335,205,370,185,352,145,425,115,440,105,420]],
["U",[315,425,345,425,355,470,352,550,368,618,335,595,315,560,320,515,285,485,295,455,318,450]],
["U",[460,410,508,410,518,430,520,505,470,510,455,510,475,455]],
["VII",[795,195,812,192,830,197,830,225,812,285,795,255,790,225],1],
["IV",[950,325,1000,315,985,375,945,445,945,395,938,370],1],
["III",[660,620,680,635,715,638,695,705,675,708,642,680,655,665],1],
["VII",[955,518,985,518,988,530,1020,540,1050,570,1040,605,1005,600,955,605],1],
["III",[978,640,1002,640,1005,685,990,703,978,690],1],
["VII",[635,985,680,950,725,950,750,975,750,995,700,995,700,1018,660,1005,650,1015],1]
];
const communesG=[
["III",[78,148,135,140,180,135,190,165,205,165,208,125,262,125,295,175,270,190,272,220,250,240,282,265,302,305,270,262,215,265,150,305,125,290,118,250,85,200]],
["III",[295,175,335,240,330,265,345,285,302,305,282,265,250,240,272,220,270,190]],
["III",[302,305,345,285,405,305,420,285,458,285,458,322,410,350,392,370,385,425,338,450,298,430,295,415,330,380,312,350,308,320]],
["III",[458,285,500,270,545,240,548,195,635,172,660,198,680,195,695,240,670,278,645,285,645,305,620,310,600,335,605,390,555,395,525,352,458,322]],
["III",[498,270,545,238,575,290,575,305,550,328,515,325,495,305,510,285],1],
["III",[750,55,800,98,835,98,850,125,880,125,945,190,950,205,925,295,900,325,855,295,858,265,825,270,770,255,800,245,800,215,715,150,725,148]],
["U",[680,195,715,150,800,215,800,250,770,255,735,235,700,215]],
["IV",[680,210,700,215,770,252,768,262,800,310,855,295,900,325,890,352,835,340,825,358,795,365,742,318,680,325,672,312,645,300,645,285,670,278,695,240]],
["IV",[770,255,825,250,858,265,855,298,800,315,772,270],1]
];
const communesH=[
["III",[258,40,295,55,370,22,408,25,425,65,435,110,440,125,432,130,460,158,410,192,375,168,312,168,302,180,302,235,200,235,155,220,165,178,210,180,230,150,205,120,230,110,232,70]],
["III",[400,312,415,270,460,230,480,218,510,225,548,175,565,185,572,203,550,245,612,288,605,340,615,360,600,362,570,350,530,358,495,355,475,428,388,390,415,350]],
["III",[645,115,705,130,710,150,785,225,798,255,760,320,715,315,650,315,612,348,605,340,612,288,550,245,555,210,572,203,590,200,608,185,590,155,625,125]],
["U",[60,270,115,270,115,235,155,222,200,235,302,235,288,280,280,375,270,378,258,352,220,352,190,325,165,328,150,318,130,330,105,375,80,372,75,345,58,330,55,300]],
["U",[312,168,375,168,420,210,400,225,395,260,378,270,380,302,400,312,415,350,385,385,365,378,280,378,288,280,302,235,302,180]],
["U",[460,158,435,125,465,95,505,85,510,55,530,55,540,68,595,50,640,85,645,115,625,125,625,140,590,155,608,185,590,200,572,203,565,185,548,175,520,200,510,225,480,218,460,230,415,270,400,310,380,305,378,270,395,260,400,225,420,210,410,192]],
["U",[495,355,530,358,570,350,600,362,640,410,635,430,610,458,505,465,475,428]],
["U",[650,315,715,315,755,310,760,320,700,410,715,437,678,450,670,435,635,430,640,410,612,350]]
];
const communesK=[
["I",[295,145,340,85,375,120,410,120,430,100,465,100,470,90,455,75,465,65,495,70,530,40,552,35,555,62,585,85,600,140,640,148,630,190,598,195,620,240,610,265,550,290,590,320,580,360,540,380,498,410,465,365,420,335,395,340,375,310,345,305,335,280,305,265,330,240,300,205,328,195,322,165]],
["III",[310,265,335,280,345,305,375,310,395,340,420,335,465,365,498,410,490,470,478,495,430,480,352,430,330,415,300,380,270,360,305,320,295,280]],
["U",[198,95,280,42,320,45,355,25,382,55,340,85,292,145,262,130,205,122]],
["U",[40,290,120,265,125,298,160,292,155,340,190,380,100,405]],
["U",[205,122,262,130,295,145,325,165,328,195,300,205,330,240,295,280,305,320,270,358,262,385,232,398,210,410,190,380,155,340,160,295,170,290,155,240,135,240,180,190,185,155]],
["U",[180,190,222,190,200,220,222,255,200,255,180,238,160,235,135,240]],
["U",[232,400,262,385,270,360,300,380,330,415,352,430,350,462,322,462,280,450,232,420]],
["U",[498,410,540,380,580,360,590,322,615,345,655,355,665,400,678,430,640,455,612,495,605,520,595,500,585,465,578,510,560,550,510,510]],
["U",[460,95,525,85,525,115,548,140,550,170,530,180,488,228,480,200,450,180,445,150]]
];
const tiles=[[originA,communesA],[originB,communesB],[originC,communesC],[originD,communesD],[originE,communesE],[originF,communesF],[originK,communesK],[originG,communesG],[originH,communesH]];

const svg=d3.select("#c");
const features=[];
tiles.forEach(([o,list])=>{
  const sx=d3.scaleLinear().domain([0,3]).range([o[0],o[0]+1]);
  const sy=d3.scaleLinear().domain([0,3]).range([o[1],o[1]+1]);
  list.forEach(([type,flat,inner])=>{
    const pts=d3.range(0,flat.length,2).map(i=>[sx(flat[i]),sy(flat[i+1])]);
    features.push({type,pts,layer:inner?2:(type==="U"?1:0)});
  });
});
const line=d3.line().curve(d3.curveLinearClosed);
svg.append("g").selectAll("path").data(d3.sort(features,d=>d.layer)).join("path")
  .attr("d",d=>line(d.pts)).attr("fill",d=>mapColors[d.type])
  .attr("stroke","#231F20").attr("stroke-width",1.7).attr("stroke-linejoin","round");

// legend
const swatchTops=[793,870,949,1028,1104,1179,1257,1330,1413,1490];
const swatchBottoms=[857,934,1013,1092,1168,1243,1318,1395,1477,1553];
const baselines=[830,907,988,1065,1145,1218,1292,1368,1450,1530];
const lg=svg.append("g");
legendKeys.forEach((k,i)=>{
  lg.append("rect").attr("x",i<6?93:92).attr("y",swatchTops[i]).attr("width",i<6?62:63)
    .attr("height",swatchBottoms[i]-swatchTops[i]).attr("fill",legendColors[i])
    .attr("stroke",i<6?"#111118":"#22262B").attr("stroke-width",i<6?2.5:3);
  lg.append("text").attr("x",197).attr("y",baselines[i]).text(legendLabels[i])
    .attr("font-family","'Liberation Serif',serif").attr("font-size",29.2).attr("fill","#231815");
});
</script></body></html>
